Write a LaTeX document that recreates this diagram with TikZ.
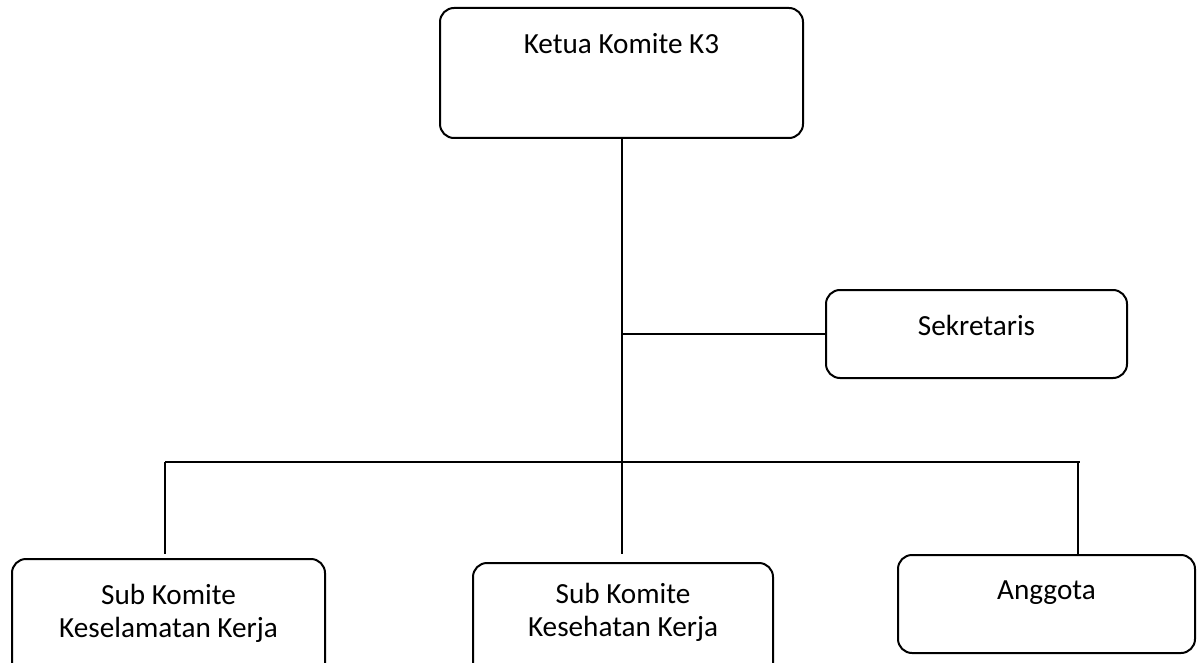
\documentclass[tikz,border=0pt]{standalone}
\usepackage{fontspec}
\setmainfont{Carlito}
\usepackage{tikz}
\tikzstyle{unit} = [rectangle, rounded corners=7pt, draw=black, line width=1pt, inner sep=3pt, align=center, font=\fontsize{14.6}{16.5}\selectfont]
\tikzstyle{line} = [line width=1pt]

\begin{document}
\begin{tikzpicture}[x=0.5pt, y=-0.5pt, node distance=130.5pt]
        \useasboundingbox (0,0) rectangle (1198,663);
        \clip (0,0) rectangle (1198,663);
        \node (ketua) [unit, minimum width=181.5pt, text height=20pt, text depth=39pt] at (621.5,73) {Ketua Komite K3};
        \node (sek) [unit, below of=ketua, xshift=177.5pt, minimum width=150.5pt, text height=19.5pt, text depth=18.5pt] {Sekretaris};
        \node (subkk) [unit, below of=sek, xshift=-404pt, yshift=-12pt, minimum width=156.5pt, text height=36pt, text depth=18pt] {Sub Komite\\Keselamatan Kerja};
        \node (subks) [unit, below of=sek, xshift=-176.75pt, yshift=-14pt, minimum width=150pt, text height=33.5pt, text depth=20.5pt] {Sub Komite\\Kesehatan Kerja};
        \node (angg) [unit, below of=sek, xshift=35pt, yshift=-4.5pt, minimum width=148.5pt, text height=19pt, text depth=24pt] {Anggota};
        % garis penghubung
        \coordinate (barL) at (165,462);
        \coordinate (barR) at (1080,462);
        \coordinate (dropR) at (1078,462);
        \draw [line, shorten >=4pt] (ketua.south) -- (ketua.south |- subks.north);
        \draw [line] (sek.west) -- (sek.west -| ketua.south);
        \draw [line] (barL) -- (barR);
        \draw [line, shorten >=2pt] (barL) -- (barL |- subkk.north);
        \draw [line] (dropR) -- (dropR |- angg.north);
\end{tikzpicture}
\end{document}
